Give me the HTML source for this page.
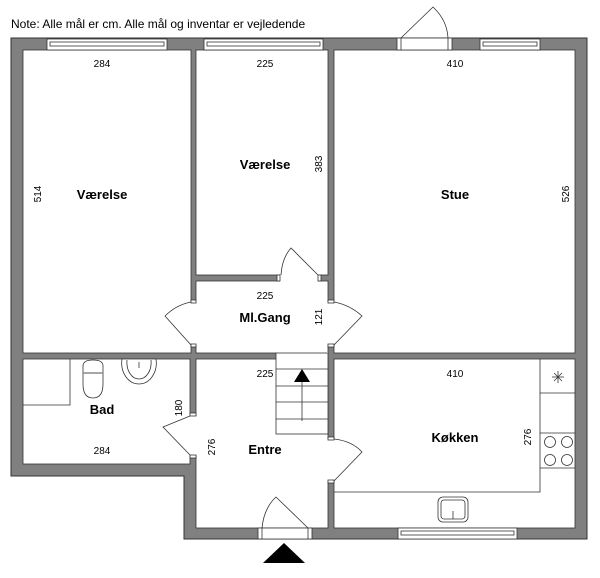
<!DOCTYPE html>
<html><head><meta charset="utf-8"><style>
html,body{margin:0;padding:0;background:#fff;width:600px;height:578px;overflow:hidden}
svg{display:block}
text{font-family:"Liberation Sans",sans-serif;fill:#000}
.d{font-size:10px}
.l{font-size:13px;font-weight:bold}
</style></head><body>
<svg width="600" height="578" viewBox="0 0 600 578">
<text x="11" y="28" font-size="12">Note: Alle mål er cm. Alle mål og inventar er vejledende</text>
<polygon points="11,38 587,38 587,539 184,539 184,476 11,476" fill="#808080" stroke="#333" stroke-width="1"/>
<g fill="#fff" stroke="#333" stroke-width="0.8">
<rect x="23" y="50" width="168" height="303"/>
<rect x="196" y="50" width="132" height="225"/>
<rect x="196" y="281" width="132" height="72"/>
<rect x="334" y="50" width="241" height="303"/>
<rect x="23" y="359" width="167" height="105"/>
<rect x="196" y="359" width="132" height="169"/>
<rect x="334" y="359" width="241" height="169"/>
</g>
<g fill="#fff" stroke="none">
<rect x="280" y="274" width="38" height="8"/>
<rect x="190" y="302" width="7" height="43"/>
<rect x="327" y="302" width="8" height="43"/>
<rect x="189" y="416" width="8" height="39"/>
<rect x="327" y="439" width="8" height="42"/>
<rect x="276" y="352" width="52" height="8"/>
</g>
<g fill="#fff" stroke="#333" stroke-width="0.8">
<rect x="277" y="275" width="3" height="6"/><rect x="318" y="275" width="3" height="6"/>
<rect x="191" y="300" width="5" height="3"/><rect x="191" y="344" width="5" height="3"/>
<rect x="328" y="300" width="6" height="3"/><rect x="328" y="344" width="6" height="3"/>
<rect x="190" y="413" width="6" height="3"/><rect x="190" y="455" width="6" height="3"/>
<rect x="328" y="437" width="6" height="3"/><rect x="328" y="480" width="6" height="3"/>
</g>
<g fill="#fff" stroke="#333" stroke-width="0.8">
<rect x="47" y="39" width="120" height="11"/><rect x="50" y="42" width="114" height="4"/>
<rect x="204" y="39" width="119" height="11"/><rect x="207" y="42" width="113" height="4"/>
<rect x="480" y="39" width="60" height="11"/><rect x="483" y="42" width="54" height="4"/>
<rect x="397" y="38" width="55" height="12"/><line x1="401" y1="38" x2="401" y2="50"/><line x1="448" y1="38" x2="448" y2="50"/>
<rect x="398" y="528" width="119" height="11"/><rect x="401" y="531" width="113" height="4"/>
<rect x="258" y="528" width="54" height="11"/><line x1="262" y1="528" x2="262" y2="539"/><line x1="308" y1="528" x2="308" y2="539"/>
</g>
<g fill="none" stroke="#333" stroke-width="0.8">
<path d="M401,38 L433,7 Q447,20 448,38"/>
<path d="M318,275 L291,248 Q282,258 281,275"/>
<path d="M191,302 Q176,305 165,316 L191,345"/>
<path d="M334,302 Q350,305 362,316 L334,345"/>
<path d="M190,416 L163,427 L190,455"/>
<path d="M334,439 Q352,441 362,452 L334,481"/>
<path d="M308,528 L276,497 Q264,508 262,528"/>
</g>
<g fill="none" stroke="#333" stroke-width="0.8">
<rect x="276" y="353" width="52" height="81" fill="#fff"/>
<line x1="276" y1="369" x2="328" y2="369"/><line x1="276" y1="386" x2="328" y2="386"/>
<line x1="276" y1="402" x2="328" y2="402"/><line x1="276" y1="419" x2="328" y2="419"/>
<line x1="302" y1="378" x2="302" y2="421"/>
</g>
<polygon points="302,369 294,382 310,382" fill="#000"/>
<polygon points="284,543 263,563 305,563" fill="#000"/>
<g fill="#fff" stroke="#333" stroke-width="0.8">
<polyline points="70,359 70,405 23,405" fill="none"/>
<path d="M83,366 Q83,360 93,360 Q103,360 103,366 L103,384 Q103,398 93,398 Q83,398 83,384 Z"/>
<line x1="83" y1="373" x2="103" y2="373" stroke="#888" stroke-width="1.5"/>
<path d="M122,359 C120,372 128,384 139,384 C150,384 158,372 156,359 Z"/>
<path d="M127,360 C126,371 132,379 139,379 C146,379 152,371 151,360"/>
<line x1="139" y1="362" x2="139" y2="368"/>
</g>
<g fill="none" stroke="#333" stroke-width="0.8">
<polyline points="334,492 540,492 540,359"/>
<line x1="540" y1="393" x2="575" y2="393"/><line x1="540" y1="433" x2="575" y2="433"/><line x1="540" y1="468" x2="575" y2="468"/>
<line x1="552" y1="377" x2="564" y2="377"/><line x1="558" y1="371" x2="558" y2="383"/>
<line x1="554" y1="373" x2="562" y2="381"/><line x1="562" y1="373" x2="554" y2="381"/>
<circle cx="550" cy="442" r="5.5"/><circle cx="567" cy="442" r="5.5"/>
<circle cx="550" cy="460" r="5.5"/><circle cx="567" cy="460" r="5.5"/>
<rect x="438" y="497" width="30" height="25" rx="5"/>
<rect x="441" y="500" width="24" height="19" rx="3"/>
<line x1="453" y1="511" x2="453" y2="519"/>
</g>
<g text-anchor="middle">
<text class="d" x="102" y="67">284</text>
<text class="d" x="265" y="67">225</text>
<text class="d" x="455" y="67">410</text>
<text class="l" x="102" y="199">Værelse</text>
<text class="l" x="265" y="169">Værelse</text>
<text class="l" x="455" y="199">Stue</text>
<text class="d" x="265" y="299">225</text>
<text class="l" x="265" y="322">Ml.Gang</text>
<text class="d" x="265" y="377">225</text>
<text class="d" x="455" y="377">410</text>
<text class="l" x="102" y="414">Bad</text>
<text class="d" x="102" y="454">284</text>
<text class="l" x="265" y="454">Entre</text>
<text class="l" x="455" y="442">Køkken</text>
<text class="d" transform="translate(41,194) rotate(-90)">514</text>
<text class="d" transform="translate(322,164) rotate(-90)">383</text>
<text class="d" transform="translate(569,194) rotate(-90)">526</text>
<text class="d" transform="translate(322,317) rotate(-90)">121</text>
<text class="d" transform="translate(182,408) rotate(-90)">180</text>
<text class="d" transform="translate(215,447) rotate(-90)">276</text>
<text class="d" transform="translate(531,437) rotate(-90)">276</text>
</g>
</svg>
</body></html>
